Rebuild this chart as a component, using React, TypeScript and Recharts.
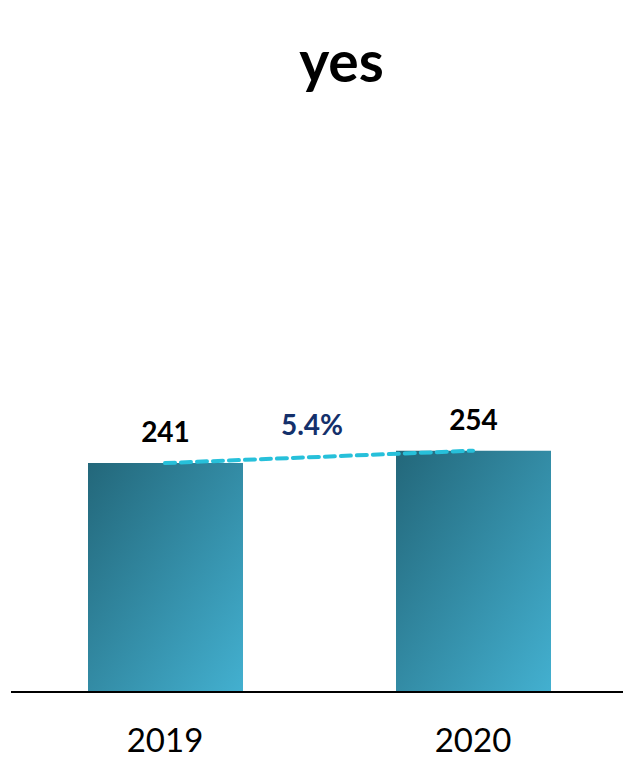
import React from "react";
import { ComposedChart, Bar, Line, XAxis, YAxis, LabelList } from "recharts";

const years = ["2019", "2020"];
const values = [241, 254];
const growthLabel = "5.4%";
const title = "yes";

const data = years.map((year, i) => ({ year, value: values[i] }));

const FONT = "Lato, 'Open Sans', sans-serif";

export default function App() {
  return (
    <div style={{ position: "absolute", left: 0, top: 0, width: 623, height: 758, overflow: "hidden", background: "#fff", fontFamily: FONT }}>
      <div style={{ position: "absolute", left: 0, width: 683, top: 25, textAlign: "center", fontSize: 57, fontWeight: 700, color: "#000", lineHeight: "70px" }}>
        {title}
      </div>
      <div style={{ position: "absolute", left: 262, width: 100, top: 406, textAlign: "center", fontSize: 28, fontWeight: 700, color: "#14306b", lineHeight: "36px" }}>
        {growthLabel}
      </div>
      <ComposedChart width={628} height={758} data={data} margin={{ top: 217, right: 1, bottom: 0, left: 11 }}>
        <defs>
          <linearGradient id="barGrad" x1="0" y1="0" x2="1" y2="1">
            <stop offset="0%" stopColor="#23677a" />
            <stop offset="100%" stopColor="#43b0d0" />
          </linearGradient>
        </defs>
        <YAxis hide domain={[0, 500]} />
        <XAxis
          dataKey="year"
          axisLine={{ stroke: "#000", strokeWidth: 2 }}
          tickLine={false}
          tickMargin={31}
          height={66}
          tick={{ fill: "#000", fontSize: 33, fontFamily: FONT }}
        />
        <Bar dataKey="value" fill="url(#barGrad)" barSize={155} isAnimationActive={false}>
          <LabelList dataKey="value" position="top" offset={21} fill="#000" fontSize={28} fontWeight={700} fontFamily={FONT} />
        </Bar>
        <Line
          dataKey="value"
          type="linear"
          stroke="#27c0da"
          strokeWidth={4}
          strokeDasharray="10 6"
          strokeLinecap="round"
          dot={false}
          activeDot={false}
          isAnimationActive={false}
        />
      </ComposedChart>
    </div>
  );
}
